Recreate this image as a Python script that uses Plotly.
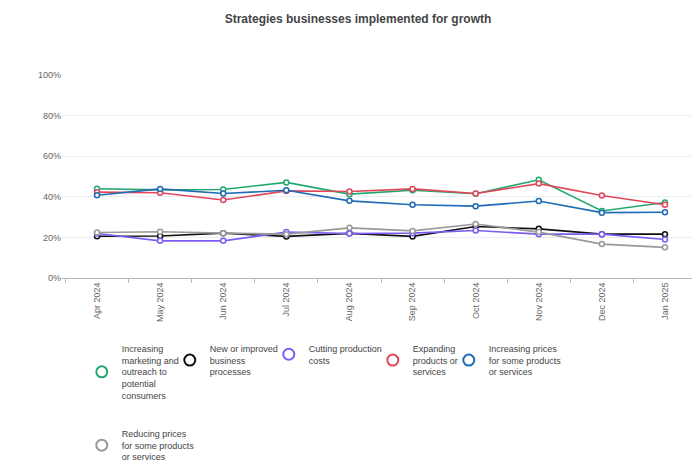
import plotly.graph_objects as go

months = ["Apr 2024", "May 2024", "Jun 2024", "Jul 2024", "Aug 2024",
          "Sep 2024", "Oct 2024", "Nov 2024", "Dec 2024", "Jan 2025"]

marketing = [44.0, 43.4, 43.6, 47.1, 41.3, 43.2, 41.5, 48.4, 33.0, 37.2]
processes = [20.6, 20.7, 22.1, 20.5, 22.0, 20.5, 25.4, 24.2, 21.6, 21.6]
cutting = [21.9, 18.3, 18.3, 22.6, 21.9, 22.1, 23.4, 21.6, 21.6, 19.0]
expanding = [42.3, 42.0, 38.4, 42.9, 42.6, 43.9, 41.6, 46.5, 40.6, 36.1]
raising = [40.8, 43.9, 41.6, 43.2, 38.0, 36.1, 35.4, 37.9, 32.2, 32.4]
reducing = [22.4, 22.8, 22.1, 21.6, 24.7, 23.2, 26.6, 22.6, 16.7, 15.1]

names = [
    "Increasing<br>marketing and<br>outreach to<br>potential<br>consumers",
    "New or improved<br>business<br>processes",
    "Cutting production<br>costs",
    "Expanding<br>products or<br>services",
    "Increasing prices<br>for some products<br>or services",
    "Reducing prices<br>for some products<br>or services",
]
series = [marketing, processes, cutting, expanding, raising, reducing]
colors = ["#22a86f", "#111111", "#7e5cf5", "#e0475b", "#1f6bb5", "#9a9a9a"]
# legend slot widths, so the entries sit close like the original
slot_widths = [43, 54, 59, 31, 75, 75]
legend_ids = ["legend", "legend", "legend", "legend", "legend", "legend2"]

fig = go.Figure()
for vals, col in zip(series, colors):
    fig.add_trace(go.Scatter(
        x=months, y=vals, mode="lines+markers", showlegend=False,
        line=dict(color=col, width=1.6),
        marker=dict(symbol="circle", size=5, color="white",
                    line=dict(color=col, width=1.5)),
        hovertemplate="%{y:.0f}%<extra></extra>"))

# legend entries drawn as plain open circles
for name, col, lw, lg in zip(names, colors, slot_widths, legend_ids):
    fig.add_trace(go.Scatter(
        x=[None], y=[None], mode="markers", name=name,
        legend=lg, legendwidth=lw,
        marker=dict(symbol="circle-open", size=11, color=col,
                    line=dict(color=col, width=2))))

legend_style = dict(orientation="h", xanchor="left", yanchor="top",
                    yref="container", valign="middle",
                    font=dict(size=9, color="#444"), bgcolor="rgba(0,0,0,0)")

fig.update_layout(
    width=700, height=470,
    margin=dict(l=54, r=8, t=67, b=200),
    paper_bgcolor="white", plot_bgcolor="white",
    font=dict(family="Liberation Sans, Arial, sans-serif", color="#555", size=9),
    title=dict(text="<b>Strategies businesses implemented for growth</b>",
               x=0.5, xanchor="center", y=0.985, yanchor="top",
               font=dict(size=12, color="#444")),
    xaxis=dict(type="category", tickangle=-90, tickfont=dict(size=9, color="#666"),
               showgrid=False, showline=True, linecolor="#b8b8b8", linewidth=1,
               ticks="outside", tickson="boundaries", ticklen=4, tickcolor="#b8b8b8"),
    yaxis=dict(range=[0, 100], dtick=20, ticksuffix="%",
               tickfont=dict(size=9, color="#666"),
               showgrid=True, gridcolor="#eceef4", zeroline=False, showline=False),
    legend=dict(x=0.031, y=0.302, **legend_style),
    legend2=dict(x=0.031, y=0.121, **legend_style),
)

fig.write_html("out.html")
